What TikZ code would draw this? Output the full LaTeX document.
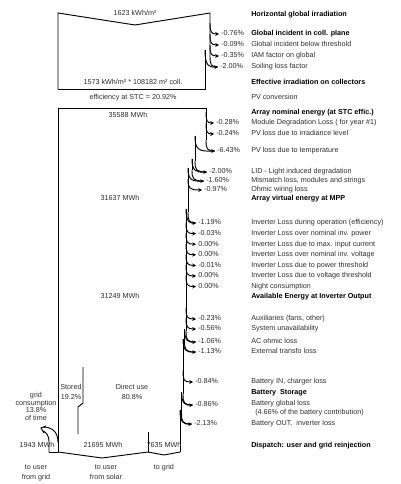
\documentclass[tikz,border=0pt]{standalone}
\usepackage{fontspec}
\setmainfont{Liberation Sans}
\usetikzlibrary{arrows.meta}
\definecolor{txt}{HTML}{2E2E2E}
\newcommand{\thinloss}[3]{%
  \draw[flow,-{Stealth[length=2.8pt,width=2.8pt]}] (#1,#2-11) .. controls (#1,#2-2) and (#1+1,#2) .. (#3,#2);}
\newcommand{\bandloss}[5]{%
  \draw[flow] (#1,#3-11) .. controls (#1,#3-2) and (#1+1,#3) .. (#4,#3);
  \draw[flow,-{Stealth[length=2.8pt,width=2.8pt]}] (#2,#5) .. controls (#2,#3-1) and (#2+4,#3+0.5) .. (#4,#3);}
\begin{document}
\begin{tikzpicture}[x=0.75pt,y=-0.75pt,
  flow/.style={draw=black,line width=0.7pt},
  lbl/.style={anchor=west,inner sep=0,font=\fontsize{5.4}{6}\selectfont,text=txt,text height=3.9pt,text depth=1.1pt},
  blbl/.style={lbl,font=\fontsize{5.4}{6}\selectfont\bfseries,text=black},
  ctr/.style={anchor=center,inner sep=0,font=\fontsize{5.4}{6}\selectfont,text=txt,text height=3.9pt,text depth=1.1pt}]
\useasboundingbox[fill=white] (0,0) rectangle (400,484);

% ---- irradiation box
\draw[flow] (58,89) -- (58,13) -- (135,25) -- (210,13) -- (210,56);
\draw[flow] (205,50) -- (205,89) -- (58,89);
\thinloss{210}{34}{219}
\thinloss{210}{45}{219}
\thinloss{210}{56}{219}
\bandloss{210}{205}{67}{218}{50}

% ---- energy flow
\draw[flow] (58,452) -- (58,108) -- (206,108) -- (206,140);
\thinloss{206}{123}{214}
\thinloss{206}{134}{214}
\bandloss{206}{195}{151}{215}{136}
\draw[flow] (195,136) -- (195,161);
\bandloss{195}{192}{172}{207}{159}
\draw[flow] (192,159) -- (192,170);
\bandloss{192}{188}{181}{204}{168}
\draw[flow] (188,168) -- (188,212);
\thinloss{188}{190}{202}
\bandloss{188}{186}{223}{196}{209}
\draw[flow] (186,209) -- (186,331);
\foreach \yy in {233.6,244.2,254.8,265.4,276,286.6} {\thinloss{186}{\yy}{196}}
\thinloss{186}{319}{196}
\thinloss{186}{329}{196}
\bandloss{186}{184.5}{342}{196}{329}
\draw[flow] (184.5,329) -- (184.5,341);
\bandloss{184.5}{183}{352}{196}{339}
\draw[flow] (183,339) -- (183,394);
\thinloss{183}{382}{193}
\bandloss{183}{181.5}{405}{193}{392}
\draw[flow] (181.5,392) -- (181.5,413);
\bandloss{181.5}{180}{424}{192}{410}
\draw[flow] (180,410) -- (180,452);

% ---- dispatch
\draw[flow] (58,452) -- (102,458) -- (148,452) -- (164,455) -- (180,452);
\draw[flow] (148,432) -- (148,452);
\draw[flow] (83,367) -- (83,403) -- (78,407) -- (78,434);
\draw[flow] (49,452) -- (58,452);
\draw[flow] (58,442) .. controls (58,432) and (52,427) .. (43,427);
\draw[flow] (49,452) -- (49,441) .. controls (49,436) and (46,432) .. (43,431);
\draw[flow] (46,426) -- (41,428) -- (44,433);

% ---- texts on the flow
\node[ctr] (hgi) at (135,14) {1623 kWh/m²};
\node[ctr] (eff) at (133,83) {1573 kWh/m² * 108182 m² coll.};
\node[ctr] (stc) at (133,98) {efficiency at STC = 20.92\%};
\node[ctr] (e1) at (128,116) {35588 MWh};
\node[ctr] (e2) at (120,199) {31637 MWh};
\node[ctr] (e3) at (120,297) {31249 MWh};
\node[ctr] (st1) at (71,388) {Stored};
\node[ctr] (st2) at (71,398) {19.2\%};
\node[ctr] (du1) at (132,388) {Direct use};
\node[ctr] (du2) at (132,398) {80.8\%};
\node[ctr] (gc1) at (36,396) {grid};
\node[ctr] (gc2) at (36,403.5) {consumption};
\node[ctr] (gc3) at (36,411) {13.8\%};
\node[ctr] (gc4) at (36,418.5) {of time};
\node[ctr] (m1) at (37,446) {1943 MWh};
\node[ctr] (m2) at (103,446) {21695 MWh};
\node[ctr] (m3) at (164,446) {7635 MWh};
\node[ctr] (u1) at (36,468) {to user};
\node[ctr] (u2) at (36,478) {from grid};
\node[ctr] (u3) at (106,468) {to user};
\node[ctr] (u4) at (106,478) {from solar};
\node[ctr] (u5) at (164,468) {to grid};

% ---- percentages
\node[lbl] (p1) at (221,34) {-0.76\%};
\node[lbl] (p2) at (221,45) {-0.09\%};
\node[lbl] (p3) at (221,56) {-0.35\%};
\node[lbl] (p4) at (220,67) {-2.00\%};
\node[lbl] (p5) at (216,123) {-0.28\%};
\node[lbl] (p6) at (216,134) {-0.24\%};
\node[lbl] (p7) at (217,151) {-6.43\%};
\node[lbl] (p8) at (209,172) {-2.00\%};
\node[lbl] (p9) at (206,181) {-1.60\%};
\node[lbl] (p10) at (204,190) {-0.97\%};
\node[lbl] (p11) at (198,223) {-1.19\%};
\node[lbl] (p12) at (198,233.6) {-0.03\%};
\node[lbl] (p13) at (198,244.2) {0.00\%};
\node[lbl] (p14) at (198,254.8) {0.00\%};
\node[lbl] (p15) at (198,265.4) {-0.01\%};
\node[lbl] (p16) at (198,276) {0.00\%};
\node[lbl] (p17) at (198,286.6) {0.00\%};
\node[lbl] (p18) at (198,319) {-0.23\%};
\node[lbl] (p19) at (198,329) {-0.56\%};
\node[lbl] (p20) at (198,342) {-1.06\%};
\node[lbl] (p21) at (198,352) {-1.13\%};
\node[lbl] (p22) at (195,382) {-0.84\%};
\node[lbl] (p23) at (195,405) {-0.86\%};
\node[lbl] (p24) at (194,424) {-2.13\%};

% ---- right column
\node[blbl] (r1) at (251,15) {Horizontal global irradiation};
\node[blbl] (r2) at (251,34) {Global incident in coll. plane};
\node[lbl] (r3) at (251,45) {Global incident below threshold};
\node[lbl] (r4) at (251,56) {IAM factor on global};
\node[lbl] (r5) at (251,67) {Soiling loss factor};
\node[blbl] (r6) at (251,83) {Effective irradiation on collectors};
\node[lbl] (r7) at (251,98) {PV conversion};
\node[blbl] (r8) at (251,113) {Array nominal energy (at STC effic.)};
\node[lbl] (r9) at (251,123) {Module Degradation Loss ( for year \#1)};
\node[lbl] (r10) at (251,134) {PV loss due to irradiance level};
\node[lbl] (r11) at (251,151) {PV loss due to temperature};
\node[lbl] (r12) at (251,172) {LID - Light induced degradation};
\node[lbl] (r13) at (251,181) {Mismatch loss, modules and strings};
\node[lbl] (r14) at (251,190) {Ohmic wiring loss};
\node[blbl] (r15) at (251,199) {Array virtual energy at MPP};
\node[lbl] (r16) at (251,223) {Inverter Loss during operation (efficiency)};
\node[lbl] (r17) at (251,233.6) {Inverter Loss over nominal inv. power};
\node[lbl] (r18) at (251,244.2) {Inverter Loss due to max. input current};
\node[lbl] (r19) at (251,254.8) {Inverter Loss over nominal inv. voltage};
\node[lbl] (r20) at (251,265.4) {Inverter Loss due to power threshold};
\node[lbl] (r21) at (251,276) {Inverter Loss due to voltage threshold};
\node[lbl] (r22) at (251,286.6) {Night consumption};
\node[blbl] (r23) at (251,297) {Available Energy at Inverter Output};
\node[lbl] (r24) at (251,319) {Auxiliaries (fans, other)};
\node[lbl] (r25) at (251,329) {System unavailability};
\node[lbl] (r26) at (251,342) {AC ohmic loss};
\node[lbl] (r27) at (251,352) {External transfo loss};
\node[lbl] (r28) at (251,382) {Battery IN, charger loss};
\node[blbl] (r29) at (251,393) {Battery\ \ Storage};
\node[lbl] (r30) at (251,404) {Battery global loss};
\node[lbl] (r31) at (255,413) {(4.66\% of the battery contribution)};
\node[lbl] (r32) at (251,424) {Battery OUT,\ \ inverter loss};
\node[blbl] (r33) at (251,446) {Dispatch: user and grid reinjection};
\end{tikzpicture}
\end{document}
